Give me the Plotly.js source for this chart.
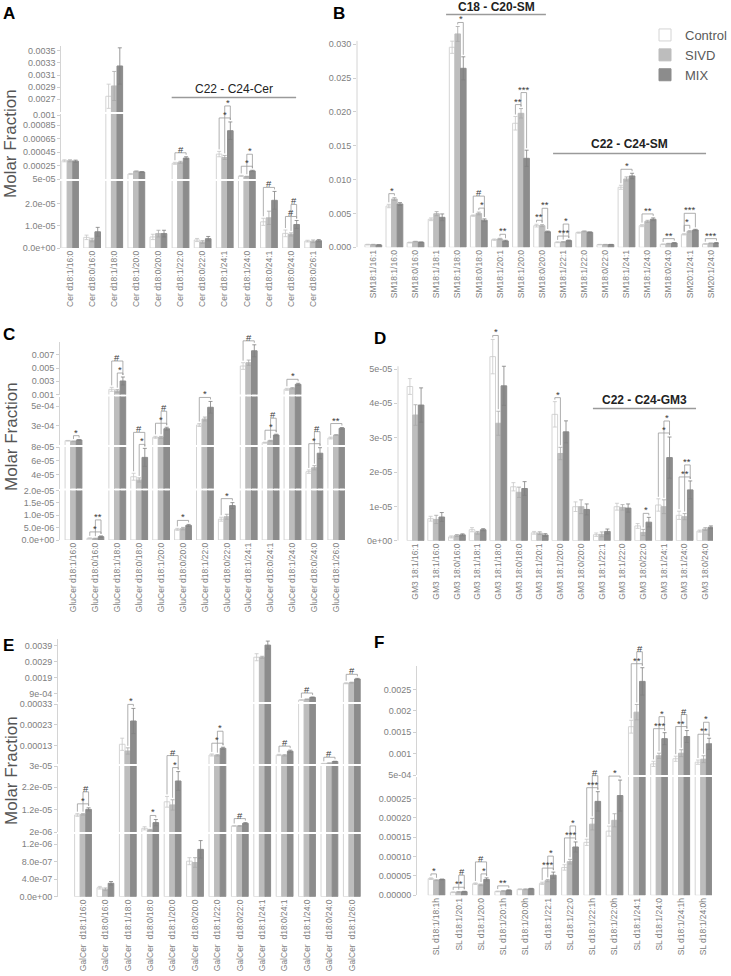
<!DOCTYPE html>
<html>
<head>
<meta charset="utf-8">
<script src="https://cdn.plot.ly/plotly-3.0.1.min.js"></script>
<style>html,body{margin:0;padding:0;background:#fff;overflow:hidden}</style>
</head>
<body>
<div id="chart" style="width:731px;height:976px"></div>
<script>
// ---------- data ----------
const seriesNames = ["Control", "SIVD", "MIX"];

// A: ceramides
const cerLabels = ["Cer d18:1/16:0", "Cer d18:0/16:0", "Cer d18:1/18:0", "Cer d18:1/20:0", "Cer d18:0/20:0", "Cer d18:1/22:0",
  "Cer d18:0/22:0", "Cer d18:1/24:1", "Cer d18:1/24:0", "Cer d18:0/24:1", "Cer d18:0/24:0", "Cer d18:0/26:1"];
const cerControl = [3.2e-4, 4.8e-6, 2.75e-3, 1.24e-4, 5.0e-6, 2.83e-4, 3.6e-6, 4.2e-4, 9.5e-5, 1.18e-5, 6.6e-6, 3.1e-6];
const cerSIVD = [3.2e-4, 3.6e-6, 2.92e-3, 1.64e-4, 6.5e-6, 2.98e-4, 2.7e-6, 3.7e-4, 8.5e-5, 1.36e-5, 6.1e-6, 3.0e-6];
const cerMIX = [3.15e-4, 7.3e-6, 3.25e-3, 1.54e-4, 6.5e-6, 3.6e-4, 4.2e-6, 7.67e-4, 1.7e-4, 2.15e-5, 1.06e-5, 3.3e-6];
const cerControlErr = [1.5e-5, 1e-6, 2e-4, 8e-6, 1.2e-6, 1.5e-5, 7e-7, 4e-5, 8e-6, 1.6e-6, 1.5e-6, 4e-7];
const cerSIVDErr = [1.5e-5, 8e-7, 2.4e-4, 6e-6, 1.5e-6, 1.5e-5, 6e-7, 3e-5, 6e-6, 3e-6, 7e-7, 6e-7];
const cerMIXErr = [1.5e-5, 2e-6, 3e-4, 6e-6, 1.5e-6, 2e-5, 1e-6, 1.3e-4, 1e-5, 4e-6, 1.8e-6, 5e-7];
const cerSig = [[5, 0, 2, "#", 0], [7, 0, 2, "*", 0], [7, 1, 2, "*", 1], [8, 0, 2, "*", 0], [8, 1, 2, "*", 1],
  [9, 0, 2, "#", 0], [10, 0, 2, "#", 0], [10, 1, 2, "#", 1]];

// B: sphingomyelins
const smLabels = ["SM18:1/16:1", "SM18:1/16:0", "SM18:0/16:0", "SM18:1/18:1", "SM18:1/18:0", "SM18:0/18:0", "SM18:1/20:1",
  "SM18:1/20:0", "SM18:0/20:0", "SM18:1/22:1", "SM18:1/22:0", "SM18:0/22:0", "SM18:1/24:1", "SM18:1/24:0", "SM18:0/24:0",
  "SM20:1/24:1", "SM20:1/24:0"];
const smControl = [0.0004, 0.0061, 0.0007, 0.00414, 0.02956, 0.00468, 0.00113, 0.01833, 0.0032, 0.00074, 0.00217, 0.0004,
  0.00887, 0.0032, 0.00044, 0.00192, 0.00049];
const smSIVD = [0.0004, 0.00714, 0.00084, 0.00497, 0.03153, 0.005, 0.00123, 0.0198, 0.0032, 0.00079, 0.00236, 0.0004,
  0.0101, 0.00384, 0.00054, 0.00236, 0.00059];
const smMIX = [0.00035, 0.0064, 0.00074, 0.00443, 0.02645, 0.004, 0.00094, 0.01315, 0.0023, 0.00099, 0.00222, 0.0004,
  0.01054, 0.00414, 0.00064, 0.00256, 0.00064];
const smControlErr = [5e-5, 2.5e-4, 6e-5, 2e-4, 9e-4, 1e-4, 1e-4, 1e-3, 2e-4, 6e-5, 8e-5, 3e-5, 3e-4, 1.5e-4, 5e-5, 1e-4, 5e-5];
const smSIVDErr = [4e-5, 2e-4, 5e-5, 3e-4, 1.1e-3, 2e-4, 1e-4, 7e-4, 1.5e-4, 6e-5, 6e-5, 3e-5, 3e-4, 1.5e-4, 5e-5, 1e-4, 5e-5];
const smMIXErr = [3e-5, 2e-4, 5e-5, 5e-4, 1.7e-3, 2e-4, 1e-4, 1.2e-3, 1e-4, 8e-5, 6e-5, 3e-5, 4e-4, 2e-4, 5e-5, 1e-4, 5e-5];
const smSig = [[1, 0, 1, "*", 0], [4, 1, 2, "*", 0], [5, 1, 2, "*", 0], [5, 0, 2, "#", 1], [6, 1, 2, "**", 0],
  [7, 0, 1, "**", 0], [7, 1, 2, "***", 1], [8, 0, 1, "**", 0], [8, 1, 2, "**", 1], [9, 0, 2, "***", 0], [9, 1, 2, "*", 1],
  [12, 0, 2, "*", 0], [13, 0, 2, "**", 0], [14, 0, 2, "**", 0], [15, 0, 1, "*", 0], [15, 0, 2, "***", 1], [16, 0, 2, "***", 0]];

// C: glucosylceramides
const gluLabels = ["GluCer d18:1/16:0", "GluCer d18:0/16:0", "GluCer d18:1/18:0", "GluCer d18:0/18:0", "GluCer d18:1/20:0",
  "GluCer d18:0/20:0", "GluCer d18:1/22:0", "GluCer d18:0/22:0", "GluCer d18:1/24:1", "GluCer d18:0/24:1", "GluCer d18:1/24:0",
  "GluCer d18:0/24:0", "GluCer d18:1/26:0"];
const gluControl = [1.44e-4, 6.7e-7, 0.00178, 3.7e-5, 1.79e-4, 4.3e-6, 3.06e-4, 8.4e-6, 0.0053, 1.24e-4, 0.00178, 4.43e-5, 1.72e-4];
const gluSIVD = [1.38e-4, 5.4e-7, 0.00153, 3.23e-5, 1.79e-4, 4.6e-6, 3.68e-4, 9.4e-6, 0.0058, 1.44e-4, 0.00194, 5.0e-5, 2.03e-4];
const gluMIX = [1.52e-4, 1.35e-6, 0.00304, 6.5e-5, 2.68e-4, 5.9e-6, 4.89e-4, 1.39e-5, 0.0076, 2.03e-4, 0.00254, 7.1e-5, 2.72e-4];
const gluControlErr = [3e-6, 2e-7, 3e-4, 5e-6, 1e-5, 4e-7, 1.5e-5, 8e-7, 5e-4, 5e-6, 1.5e-4, 2.5e-6, 1e-5];
const gluSIVDErr = [3e-6, 2e-7, 2e-4, 3e-6, 1e-5, 5e-7, 2e-5, 1e-6, 4e-4, 5e-6, 1e-4, 3e-6, 5e-6];
const gluMIXErr = [3e-6, 3e-7, 6e-4, 1.3e-5, 1.5e-5, 4e-7, 6e-5, 1.2e-6, 9e-4, 8e-6, 1.5e-4, 8e-6, 8e-6];
const gluSig = [[0, 1, 2, "*", 0], [1, 0, 2, "*", 0], [1, 1, 2, "**", 1], [2, 1, 2, "*", 0], [2, 0, 2, "#", 1],
  [3, 1, 2, "*", 0], [3, 0, 2, "#", 1], [4, 0, 2, "*", 0], [4, 1, 2, "#", 1], [5, 0, 2, "*", 0], [6, 0, 2, "*", 0],
  [7, 0, 2, "*", 0], [8, 0, 2, "#", 0], [9, 0, 2, "*", 0], [9, 1, 2, "#", 1], [10, 0, 2, "*", 0], [11, 0, 2, "*", 0],
  [11, 1, 2, "#", 1], [12, 0, 2, "**", 0]];

// D: GM3 gangliosides
const gm3Labels = ["GM3 18:1/16:1", "GM3 18:1/16:0", "GM3 18:0/16:0", "GM3 18:1/18:1", "GM3 18:1/18:0", "GM3 18:0/18:0",
  "GM3 18:1/20:1", "GM3 18:1/20:0", "GM3 18:0/20:0", "GM3 18:1/22:1", "GM3 18:1/22:0", "GM3 18:0/22:0", "GM3 18:1/24:1",
  "GM3 18:1/24:0", "GM3 18:0/24:0"];
const gm3Control = [4.49e-5, 6.4e-6, 1.1e-6, 3.2e-6, 5.36e-5, 1.57e-5, 2.3e-6, 3.68e-5, 9.9e-6, 1.75e-6, 9.9e-6, 4.3e-6, 1.04e-5, 7.4e-6, 2.8e-6];
const gm3SIVD = [3.66e-5, 6.2e-6, 1.5e-6, 2.3e-6, 3.42e-5, 1.41e-5, 2.2e-6, 2.54e-5, 9.9e-6, 1.85e-6, 9.7e-6, 2.4e-6, 9.9e-6, 7.0e-6, 3.4e-6];
const gm3MIX = [3.95e-5, 6.9e-6, 1.7e-6, 3.2e-6, 4.51e-5, 1.52e-5, 1.65e-6, 3.17e-5, 9.1e-6, 2.7e-6, 9.5e-6, 5.4e-6, 2.42e-5, 1.48e-5, 3.9e-6];
const gm3ControlErr = [2.3e-6, 7e-7, 3e-7, 6e-7, 5e-6, 1.2e-6, 4e-7, 3.7e-6, 1.4e-6, 5e-7, 1e-6, 7e-7, 1.8e-6, 1.2e-6, 3e-7];
const gm3SIVDErr = [3e-6, 1.2e-6, 3e-7, 4e-7, 3.5e-6, 1.5e-6, 4e-7, 1.8e-6, 2e-6, 7e-7, 8e-7, 9e-7, 2e-6, 9e-7, 4e-7];
const gm3MIXErr = [5e-6, 1.3e-6, 3e-7, 3e-7, 5.7e-6, 2e-6, 4e-7, 3.2e-6, 1.6e-6, 7e-7, 1.2e-6, 1.4e-6, 6e-6, 2.6e-6, 4e-7];
const gm3Sig = [[4, 0, 1, "*", 0], [7, 0, 1, "*", 0], [11, 1, 2, "*", 0], [12, 0, 2, "*", 0], [12, 1, 2, "*", 1],
  [13, 0, 2, "**", 0], [13, 1, 2, "**", 1]];

// E: galactosylceramides
const galLabels = ["GalCer  d18:1/16:0", "GalCer  d18:0/16:0", "GalCer  d18:1/18:0", "GalCer  d18:0/18:0", "GalCer  d18:1/20:0",
  "GalCer  d18:0/20:0", "GalCer  d18:1/22:0", "GalCer  d18:0/22:0", "GalCer  d18:1/24:1", "GalCer  d18:0/24:1",
  "GalCer  d18:1/24:0", "GalCer  d18:0/24:0", "GalCer  d18:1/26:0"];
const galControl = [9.6e-6, 2.05e-7, 1.38e-4, 3.65e-6, 1.55e-5, 8.1e-7, 8.7e-5, 4.7e-6, 0.00316, 8.7e-5, 4.85e-4, 4.6e-5, 0.00153];
const galSIVD = [9.9e-6, 1.69e-7, 1.06e-4, 2.9e-6, 1.41e-5, 7.8e-7, 8.55e-5, 4.7e-6, 0.00316, 8.55e-5, 5.3e-4, 4.8e-5, 0.00157];
const galMIX = [1.21e-5, 3.06e-7, 2.49e-4, 6.2e-6, 2.48e-5, 1.08e-6, 1.19e-4, 5.9e-6, 0.00392, 1.05e-4, 6.5e-4, 5.6e-5, 0.0018];
const galControlErr = [6e-7, 3e-8, 2.9e-5, 7e-7, 2.4e-6, 8e-8, 5e-6, 2e-7, 2.2e-4, 3e-6, 1e-5, 1e-6, 3e-5];
const galSIVDErr = [3e-7, 3e-8, 1.5e-5, 3e-7, 2.3e-6, 1.1e-7, 3e-6, 2e-7, 6e-5, 3e-6, 1e-5, 1e-6, 3e-5];
const galMIXErr = [7e-7, 4e-8, 6e-5, 1.4e-6, 4.2e-6, 2e-7, 5e-6, 3e-7, 2.5e-4, 5e-6, 2e-5, 1e-6, 4e-5];
const galSig = [[0, 0, 2, "*", 0], [0, 1, 2, "#", 1], [2, 1, 2, "*", 0], [3, 1, 2, "*", 0], [4, 1, 2, "*", 0], [4, 0, 2, "#", 1],
  [6, 0, 2, "*", 0], [6, 1, 2, "*", 1], [7, 0, 2, "#", 0], [9, 0, 2, "#", 0], [10, 0, 2, "#", 0], [11, 0, 2, "#", 0], [12, 0, 2, "#", 0]];

// F: sulfatides
const slLabels = ["SL d18:1/18:1h", "SL d18:1/20:1", "SL d18:1/20:0", "SL d18:1/20:1h", "SL d18:1/20:0h", "SL d18:1/22:1",
  "SL d18:1/22:0", "SL d18:1/22:1h", "SL d18:1/22:0h", "SL d18:1/24:1", "SL d18:1/24:0", "SL d18:1/24:1h", "SL d18:1/24:0h"];
const slControl = [4.3e-5, 7.8e-6, 3.0e-5, 1.0e-5, 1.55e-5, 3.1e-5, 7.2e-5, 1.37e-4, 1.66e-4, 0.00163, 7.6e-4, 8.8e-4, 8.0e-4];
const slSIVD = [3.9e-5, 8.6e-6, 2.7e-5, 1.1e-5, 1.55e-5, 3.8e-5, 8.7e-5, 1.84e-4, 1.94e-4, 0.00197, 9.5e-4, 0.00101, 8.7e-4];
const slMIX = [4.1e-5, 9.5e-6, 4.1e-5, 1.3e-5, 1.7e-5, 5.2e-5, 1.25e-4, 2.43e-4, 2.58e-4, 0.00269, 0.00135, 0.0014, 0.00123];
const slControlErr = [2e-6, 1e-6, 2e-6, 1e-6, 1e-6, 3e-6, 7e-6, 8e-6, 1.3e-5, 1.5e-4, 6e-5, 6e-5, 5e-5];
const slSIVDErr = [1e-6, 1e-6, 2e-6, 1e-6, 1e-6, 3e-6, 6e-6, 1.5e-5, 1.7e-5, 1.8e-4, 6e-5, 8e-5, 8e-5];
const slMIXErr = [1e-6, 1e-6, 4e-6, 1e-6, 1e-6, 8e-6, 1.3e-5, 2.5e-5, 4e-5, 3.2e-4, 1.4e-4, 1.4e-4, 1.3e-4];
const slSig = [[0, 0, 1, "*", 0], [1, 0, 2, "**", 0], [1, 1, 2, "#", 1], [2, 1, 2, "*", 0], [2, 0, 2, "#", 1], [3, 0, 2, "**", 0],
  [5, 0, 2, "***", 0], [5, 1, 2, "*", 1], [6, 0, 2, "***", 0], [6, 1, 2, "*", 1], [7, 0, 2, "***", 0], [7, 1, 2, "#", 1],
  [8, 0, 2, "*", 0], [9, 0, 2, "**", 0], [9, 1, 2, "#", 1], [10, 0, 2, "***", 0], [10, 1, 2, "*", 1], [11, 0, 2, "**", 0],
  [11, 1, 2, "#", 1], [12, 0, 2, "**", 0], [12, 1, 2, "*", 1]];

// y tick values / labels per axis segment (bottom segment first)
const cerTicks = [[0, 1e-5, 2e-5], [5e-5, 0.00025, 0.00045, 0.00065, 0.00085, 0.001], [0.0027, 0.0029, 0.0031, 0.0033, 0.0035]];
const cerTickText = [["0.0e+00", "1.0e-05", "2.0e-05"], ["5e-05", "0.00025", "0.00045", "0.00065", "0.00085", "0.001"],
  ["0.0027", "0.0029", "0.0031", "0.0033", "0.0035"]];
const smTicks = [[0, 0.005, 0.01, 0.015, 0.02, 0.025, 0.03]];
const smTickText = [["0.000", "0.005", "0.010", "0.015", "0.020", "0.025", "0.030"]];
const gluTicks = [[0, 5e-6, 1e-5, 1.5e-5, 2e-5], [4e-5, 6e-5, 8e-5], [3e-4, 5e-4], [0.001, 0.003, 0.005, 0.007]];
const gluTickText = [["0.0e+00", "5.0e-06", "1.0e-05", "1.5e-05", "2.0e-05"], ["4e-05", "6e-05", "8e-05"], ["3e-04", "5e-04"],
  ["0.001", "0.003", "0.005", "0.007"]];
const gm3Ticks = [[0, 1e-5, 2e-5, 3e-5, 4e-5, 5e-5]];
const gm3TickText = [["0e+00", "1e-05", "2e-05", "3e-05", "4e-05", "5e-05"]];
const galTicks = [[0, 4e-7, 8e-7, 1.2e-6], [2e-6, 1.2e-5, 2.2e-5, 3.15e-5], [1.3e-4, 2.3e-4, 3.3e-4], [9e-4, 0.0019, 0.0029, 0.0039]];
const galTickText = [["0.0e+00", "4.0e-07", "8.0e-07", "1.2e-06"], ["2e-06", "1.2e-05", "2.2e-05", "3e-05"],
  ["0.00013", "0.00023", "0.00033"], ["9e-04", "0.0019", "0.0029", "0.0039"]];
const slTicks = [[0, 5e-5, 1e-4, 1.5e-4, 2e-4, 2.5e-4], [5e-4, 0.001, 0.0015, 0.002, 0.0025]];
const slTickText = [["0.00000", "0.00005", "0.00010", "0.00015", "0.00020", "0.00025"], ["5e-04", "0.001", "0.0015", "0.002", "0.0025"]];

// ---------- layout (pixels of the 731x976 figure) ----------
const W = 731, H = 976;
const FONT = "Liberation Sans, Arial, sans-serif";
const fills = ["#ffffff", "#bdbdbd", "#8c8c8c"];
const edges = ["#d4d4d4", "#bdbdbd", "#8c8c8c"];
const errColors = ["#c8c8c8", "#a8a8a8", "#808080"];
const AXIS_COLOR = "#d4d4d4";

// segs: px = [top, bottom] of the segment, range = [low, high]
// lineTop: where the drawn axis line stops when bars run past it
const panels = [
  { letter: "A", lx: 1, ly: 2, labels: cerLabels, vals: [cerControl, cerSIVD, cerMIX], errs: [cerControlErr, cerSIVDErr, cerMIXErr],
    sig: cerSig, ticks: cerTicks, tickText: cerTickText, xpx: [61.4, 322.2], xr: [-0.39, 11.41], bw: 0.253,
    segs: [{ px: [181, 248], range: [0, 3.02e-5] }, { px: [114, 179], range: [5e-5, 0.001015] }, { px: [46, 112], range: [0.00249, 0.00358] }] },
  { letter: "B", lx: 331, ly: 2, labels: smLabels, vals: [smControl, smSIVD, smMIX], errs: [smControlErr, smSIVDErr, smMIXErr],
    sig: smSig, ticks: smTicks, tickText: smTickText, xpx: [357, 718.6], xr: [-0.773, 16.365], bw: 0.265, legend: true,
    lineTop: 0.0305, segs: [{ px: [20.6, 247.3], range: [0, 0.0335] }] },
  { letter: "C", lx: 1, ly: 323, labels: gluLabels, vals: [gluControl, gluSIVD, gluMIX], errs: [gluControlErr, gluSIVDErr, gluMIXErr],
    sig: gluSig, ticks: gluTicks, tickText: gluTickText, xpx: [60, 345], xr: [-0.616, 12.397], bw: 0.256,
    segs: [{ px: [490.5, 540], range: [0, 2e-5] }, { px: [447, 488.5], range: [2e-5, 8e-5] },
      { px: [396.5, 445], range: [1e-4, 6e-4] }, { px: [341.5, 394.5], range: [0.001, 0.009] }] },
  { letter: "D", lx: 372, ly: 327, labels: gm3Labels, vals: [gm3Control, gm3SIVD, gm3MIX], errs: [gm3ControlErr, gm3SIVDErr, gm3MIXErr],
    sig: gm3Sig, ticks: gm3Ticks, tickText: gm3TickText, xpx: [398, 713], xr: [-0.845, 14.37], bw: 0.27,
    lineTop: 5.08e-5, segs: [{ px: [338.1, 540.7], range: [0, 5.9e-5] }] },
  { letter: "E", lx: 1, ly: 634, labels: galLabels, vals: [galControl, galSIVD, galMIX], errs: [galControlErr, galSIVDErr, galMIXErr],
    sig: galSig, ticks: galTicks, tickText: galTickText, xpx: [58, 363], xr: [-1.116, 12.5], bw: 0.25,
    segs: [{ px: [834, 896.7], range: [0, 1.43e-6] }, { px: [766, 832], range: [2e-6, 3.15e-5] },
      { px: [704, 764], range: [4.4e-5, 3.3e-4] }, { px: [639, 702], range: [3.6e-4, 0.0043] }] },
  { letter: "F", lx: 372, ly: 631, labels: slLabels, vals: [slControl, slSIVD, slMIX], errs: [slControlErr, slSIVDErr, slMIXErr],
    sig: slSig, ticks: slTicks, tickText: slTickText, xpx: [417, 712], xr: [-0.876, 12.38], bw: 0.25,
    segs: [{ px: [777, 895.3], range: [0, 3.06e-4] }, { px: [666, 775], range: [5e-4, 0.00305] }] }
];

const py = px => 1 - px / H;

// value -> pixel row, using the same segment ranges given to plotly
function valueToPx(p, v) {
  let k = 0;
  p.segs.forEach((s, i) => { if (v >= s.range[0]) k = i; });
  const s = p.segs[k];
  let t = (v - s.range[0]) / (s.range[1] - s.range[0]);
  if (k < p.segs.length - 1) t = Math.min(t, 1);
  return s.px[1] - t * (s.px[1] - s.px[0]);
}

const data = [];
const layout = {
  width: W, height: H,
  margin: { l: 0, r: 0, t: 0, b: 0, autoexpand: false },
  paper_bgcolor: "#fff", plot_bgcolor: "rgba(0,0,0,0)",
  font: { family: FONT, color: "#808080" },
  barmode: "overlay",
  showlegend: true,
  legend: { x: 645 / W, y: py(20), xanchor: "left", yanchor: "top", font: { size: 13, color: "#5a5a5a" },
    bgcolor: "rgba(0,0,0,0)", itemwidth: 30, tracegroupgap: 0 },
  shapes: [],
  annotations: []
};

let yCount = 0;
panels.forEach((p, pi) => {
  const xn = pi + 1;
  const xId = xn === 1 ? "x" : "x" + xn;
  const xKey = xn === 1 ? "xaxis" : "xaxis" + xn;
  p.xId = xId;
  layout[xKey] = {
    domain: [p.xpx[0] / W, p.xpx[1] / W], range: p.xr,
    tickvals: p.labels.map((_, i) => i), ticktext: p.labels,
    tickangle: -90, tickfont: { size: 8.5, color: "#808080" },
    ticks: "", showline: false, showgrid: false, zeroline: false, fixedrange: true
  };
  p.segs.forEach((s, si) => {
    yCount++;
    const yId = yCount === 1 ? "y" : "y" + yCount;
    const yKey = yCount === 1 ? "yaxis" : "yaxis" + yCount;
    if (si === 0) layout[xKey].anchor = yId;
    layout[yKey] = {
      domain: [py(s.px[1]), py(s.px[0])], range: s.range, anchor: xId,
      tickvals: p.ticks[si], ticktext: p.tickText[si],
      tickfont: { size: 9, color: "#808080" },
      ticks: "outside", ticklen: 3, tickcolor: "#cfcfcf",
      showline: p.lineTop === undefined, linecolor: AXIS_COLOR, linewidth: 1,
      showgrid: false, zeroline: false, fixedrange: true
    };
    if (p.lineTop !== undefined) {
      layout.shapes.push({ type: "line", xref: xId + " domain", yref: yId, x0: 0, x1: 0, y0: s.range[0], y1: p.lineTop,
        line: { color: AXIS_COLOR, width: 1 } });
    }
    seriesNames.forEach((name, k) => {
      data.push({
        type: "bar", name: name,
        showlegend: !!p.legend && si === 0,
        x: p.labels.map((_, i) => i), y: p.vals[k],
        xaxis: xId, yaxis: yId,
        width: p.bw, offset: (k - 1.5) * p.bw,
        marker: { color: fills[k], line: { color: edges[k], width: 1 } },
        error_y: { type: "data", array: p.errs[k], visible: true, color: errColors[k], thickness: 0.8, width: 2 },
        hoverinfo: "skip"
      });
    });
  });

  // significance brackets, placed from the bar tops
  p.sig.forEach(([g, a, b, label, level]) => {
    const tops = [0, 1, 2].map(k => valueToPx(p, p.vals[k][g] + p.errs[k][g]));
    const highest = Math.min(...tops);
    const yLine = highest - 4 - level * 12;
    const xa = g + (a - 1) * p.bw, xb = g + (b - 1) * p.bw;
    layout.shapes.push({
      type: "path", xref: xId, yref: "paper",
      path: `M ${xa},${py(tops[a] - 2)} L ${xa},${py(yLine)} L ${xb},${py(yLine)} L ${xb},${py(tops[b] - 2)}`,
      line: { color: "#9a9a9a", width: 0.8 }
    });
    layout.annotations.push({
      xref: xId, yref: "paper", x: (xa + xb) / 2, y: py(yLine), xanchor: "center", yanchor: "bottom",
      yshift: -3, borderpad: 0,
      text: label, showarrow: false, font: { family: FONT, size: 9.5, color: "#3a3a3a" }
    });
  });

  // panel letter
  layout.annotations.push({
    xref: "paper", yref: "paper", x: p.lx / W, y: py(p.ly), xanchor: "left", yanchor: "top",
    text: "<b>" + p.letter + "</b>", showarrow: false, font: { family: FONT, size: 17, color: "#000" }
  });
});

// y titles (left column)
[144, 437, 771].forEach(c => {
  layout.annotations.push({
    xref: "paper", yref: "paper", x: 11 / W, y: py(c), xanchor: "center", yanchor: "middle", textangle: -90,
    text: "Molar Fraction", showarrow: false, font: { family: FONT, size: 17, color: "#555" }
  });
});

// chain-length group labels
const groupSpans = [
  { panel: 0, text: "C22 - C24-Cer", bold: false, x0: 4.6, x1: 10.23, line: 97.5, label: 88.5 },
  { panel: 1, text: "C18 - C20-SM", bold: true, x0: 3.45, x1: 8.18, line: 14.5, label: 7 },
  { panel: 1, text: "C22 - C24-SM", bold: true, x0: 8.52, x1: 15.77, line: 153.5, label: 144 },
  { panel: 3, text: "C22 - C24-GM3", bold: true, x0: 8.57, x1: 13.55, line: 408.5, label: 400 }
];
groupSpans.forEach(gs => {
  const xId = panels[gs.panel].xId;
  layout.shapes.push({ type: "line", xref: xId, yref: "paper", x0: gs.x0, x1: gs.x1, y0: py(gs.line), y1: py(gs.line),
    line: { color: "#9a9a9a", width: 1.6 } });
  layout.annotations.push({ xref: xId, yref: "paper", x: (gs.x0 + gs.x1) / 2, y: py(gs.label), xanchor: "center", yanchor: "middle",
    borderpad: 0, text: gs.bold ? "<b>" + gs.text + "</b>" : gs.text, showarrow: false, font: { family: FONT, size: 12, color: "#222" } });
});

Plotly.newPlot("chart", data, layout, { staticPlot: true, displayModeBar: false });
</script>
</body>
</html>
